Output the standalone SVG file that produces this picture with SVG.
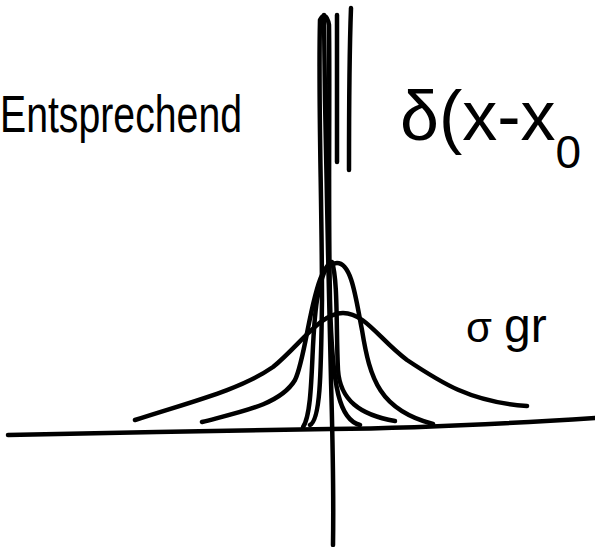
<svg xmlns="http://www.w3.org/2000/svg" width="595" height="547" viewBox="0 0 595 547">
<style>
.s{fill:none;stroke:#000;stroke-width:4.5;stroke-linecap:round;stroke-linejoin:round}
.t{font-family:"Liberation Sans",sans-serif;fill:#000}
</style>
<rect width="595" height="547" fill="#fff"/>
<g id="axes">
<path class="s" d="M8,435 C100,433 250,430 330,429 C420,428 500,424 595,418"/>
<path class="s" d="M333,545 C334,480 332,420 331,380 L328,250 L325,100 L324,15"/>
</g>
<g id="curves">
<path class="s" d="M135,420 C190,402 240,390 273,367 C300,345 320,313 343,313 C365,313 380,340 407,360 C440,382 470,402 527,406"/>
<path class="s" d="M202,422 C240,412 280,405 295,380 C305,360 310,300 322,275 C327,266 332,263 337,263 C352,263 356,300 362,330 C370,380 380,410 433,424"/>
<path class="s" d="M303,427 C315,410 310,330 318,295 C322,275 326,264 332,262 C338,280 336,330 338,370 C340,400 360,415 395,421"/>
<path class="s" d="M310,425 C320,420 321,380 322,300 C322,200 318,100 320,20 C323,14 327,14 329,25 C330,100 328,200 330,300 C332,390 340,420 360,425"/>
<path class="s" d="M337,15 L337,162"/>
<path class="s" d="M351,8 C349,60 349,120 349,170"/>
</g>
<g id="labels">
<text class="t" x="0" y="132" font-size="52" textLength="242" lengthAdjust="spacingAndGlyphs">Entsprechend</text>
<text class="t" x="400" y="140" font-size="70">δ(x-x<tspan font-size="46" dy="28">0</tspan></text>
<text class="t" x="466" y="342" font-size="42">σ <tspan x="504" font-size="48">gr</tspan></text>
</g>
</svg>
